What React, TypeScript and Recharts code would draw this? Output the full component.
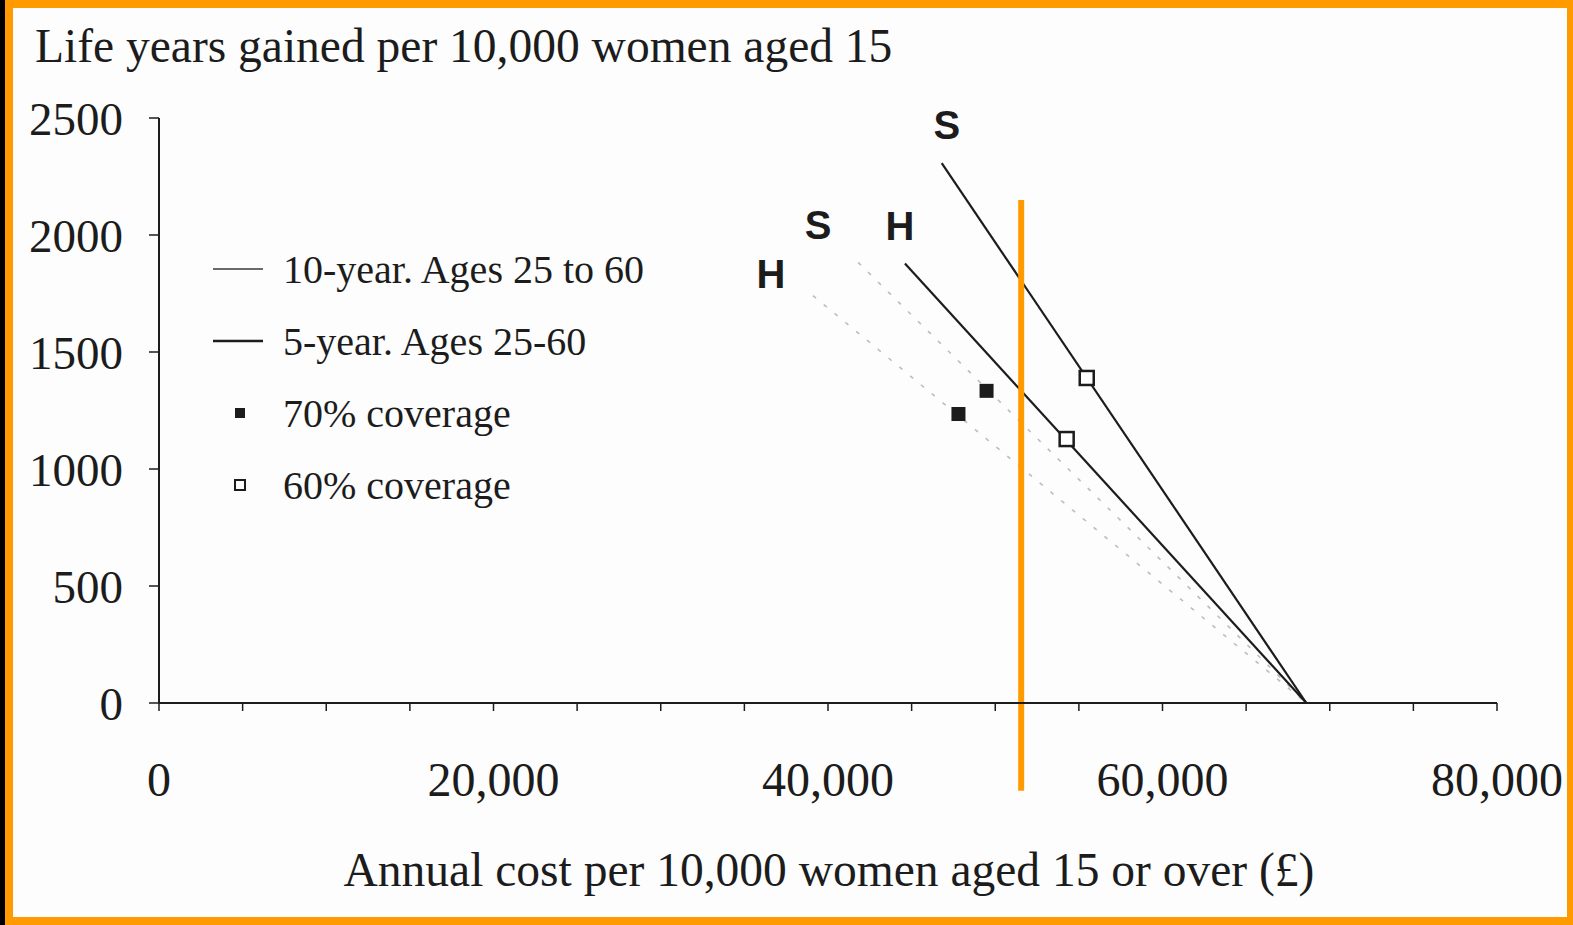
import React from 'react';
import { ComposedChart, Line, Scatter, XAxis, YAxis, ReferenceLine, LabelList, Label } from 'recharts';

// Axis ticks
const X_TICKS = [0, 5000, 10000, 15000, 20000, 25000, 30000, 35000, 40000, 45000, 50000, 55000, 60000, 65000, 70000, 75000, 80000];
const X_LABELED = [0, 20000, 40000, 60000, 80000];
const Y_TICKS = [0, 500, 1000, 1500, 2000, 2500];

// Series (cost in £ per 10,000 women, life years gained)
const fiveYearS = [{ cost: 46800, years: 2307 }, { cost: 68600, years: 0 }];
const fiveYearH = [{ cost: 44600, years: 1878 }, { cost: 68600, years: 0 }];
const tenYearS = [{ cost: 41800, years: 1883 }, { cost: 68600, years: 0 }];
const tenYearH = [{ cost: 39100, years: 1741 }, { cost: 68600, years: 0 }];
const coverage70 = [{ cost: 47800, years: 1235 }, { cost: 49480, years: 1334 }];
const coverage60 = [{ cost: 54270, years: 1128 }, { cost: 55470, years: 1389 }];

// Highlight marker (annotation)
const MARKER_COST = 51550;
const MARKER_SPAN = [2150, -375];

const LEGEND_ITEMS = [
  { label: '10-year. Ages 25 to 60', kind: 'line10' },
  { label: '5-year. Ages 25-60', kind: 'line5' },
  { label: '70% coverage', kind: 'filled' },
  { label: '60% coverage', kind: 'open' },
];

const SERIF = '"Liberation Serif", "Times New Roman", serif';
const SANS = '"Liberation Sans", Arial, sans-serif';
const INK = '#1c1c1c';

const letter = (ch: string, dx: number, dy: number) => (p: any) =>
  p.index === 0 ? (
    <text
      x={Number(p.x) + dx}
      y={Number(p.y) + dy}
      textAnchor="middle"
      dominantBaseline="central"
      fontFamily={SANS}
      fontWeight="bold"
      fontSize={40}
      fill={INK}
    >
      {ch}
    </text>
  ) : null;

const filledSquare = (p: any) => (
  <rect x={p.cx - 7} y={p.cy - 7} width={14} height={14} fill={INK} />
);
const openSquare = (p: any) => (
  <rect x={p.cx - 7} y={p.cy - 7} width={14} height={14} fill="#fff" stroke={INK} strokeWidth={2.5} />
);

function LegendBox() {
  return (
    <div style={{ position: 'absolute', left: 205, top: 233, fontFamily: SERIF, fontSize: 40, color: INK }}>
      {LEGEND_ITEMS.map((it) => (
        <div key={it.label} style={{ height: 72, display: 'flex', alignItems: 'center' }}>
          <svg width={78} height={20} style={{ flex: 'none' }}>
            {it.kind === 'line10' && <line x1={8} x2={58} y1={10} y2={10} stroke="#6a6a6a" strokeWidth={2.2} />}
            {it.kind === 'line5' && <line x1={8} x2={58} y1={10} y2={10} stroke={INK} strokeWidth={2.5} />}
            {it.kind === 'filled' && <rect x={30} y={5} width={10} height={10} fill={INK} />}
            {it.kind === 'open' && <rect x={30} y={5} width={10} height={10} fill="#fff" stroke={INK} strokeWidth={2} />}
          </svg>
          <span style={{ whiteSpace: 'nowrap' }}>{it.label}</span>
        </div>
      ))}
    </div>
  );
}

export default function App() {
  return (
    <div style={{ position: 'fixed', left: 0, top: 0, width: 1573, height: 925, background: '#000', overflow: 'hidden' }}>
      <div style={{ position: 'absolute', left: 5, top: 0, width: 1568, height: 925, background: '#FF9A00' }} />
      <div style={{ position: 'absolute', left: 13, top: 8, width: 1554, height: 909, background: '#fdfdfd' }} />
      <div style={{ position: 'absolute', left: 0, top: 0 }}>
        <ComposedChart width={1573} height={925} margin={{ top: 118, right: 76, bottom: 162, left: 99 }}>
          <XAxis
            type="number"
            dataKey="cost"
            domain={[0, 80000]}
            ticks={X_TICKS}
            interval={0}
            tickFormatter={(v: number) => (X_LABELED.includes(v) ? v.toLocaleString('en-US') : '')}
            height={60}
            tickSize={8}
            tickMargin={51}
            axisLine={{ stroke: INK, strokeWidth: 2 }}
            tickLine={{ stroke: INK, strokeWidth: 1.5 }}
            tick={{ fontFamily: SERIF, fontSize: 48, fill: INK }}
          >
            <Label
              content={(p: any) => (
                <text
                  x={p.viewBox.x + p.viewBox.width / 2 + 1}
                  y={886}
                  textAnchor="middle"
                  fontFamily={SERIF}
                  fontSize={47.5}
                  fill={INK}
                >
                  Annual cost per 10,000 women aged 15 or over (£)
                </text>
              )}
            />
          </XAxis>
          <YAxis
            type="number"
            dataKey="years"
            domain={[0, 2500]}
            ticks={Y_TICKS}
            interval={0}
            width={60}
            tickSize={10}
            tickMargin={26}
            axisLine={{ stroke: INK, strokeWidth: 2 }}
            tickLine={{ stroke: INK, strokeWidth: 1.5 }}
            tick={{ fontFamily: SERIF, fontSize: 47, fill: INK }}
          >
            <Label
              content={() => (
                <text x={35} y={62} textAnchor="start" fontFamily={SERIF} fontSize={47.5} fill={INK}>
                  Life years gained per 10,000 women aged 15
                </text>
              )}
            />
          </YAxis>

          <Line data={tenYearH} dataKey="years" stroke="#bdbdbd" strokeWidth={1.6} strokeDasharray="4 10" dot={false} isAnimationActive={false}>
            <LabelList content={letter('H', -42, -22)} />
          </Line>
          <Line data={tenYearS} dataKey="years" stroke="#bdbdbd" strokeWidth={1.6} strokeDasharray="4 10" dot={false} isAnimationActive={false}>
            <LabelList content={letter('S', -40, -37)} />
          </Line>
          <Line data={fiveYearH} dataKey="years" stroke={INK} strokeWidth={2.2} dot={false} isAnimationActive={false}>
            <LabelList content={letter('H', -5, -38)} />
          </Line>
          <Line data={fiveYearS} dataKey="years" stroke={INK} strokeWidth={2.2} dot={false} isAnimationActive={false}>
            <LabelList content={letter('S', 5, -38)} />
          </Line>

          <Scatter data={coverage70} dataKey="years" shape={filledSquare} isAnimationActive={false} />
          <Scatter data={coverage60} dataKey="years" shape={openSquare} isAnimationActive={false} />

          <ReferenceLine
            segment={[{ x: MARKER_COST, y: MARKER_SPAN[0] }, { x: MARKER_COST, y: MARKER_SPAN[1] }]}
            stroke="#FF9A00"
            strokeWidth={6}
            ifOverflow="visible"
          />
        </ComposedChart>
      </div>
      <LegendBox />
    </div>
  );
}
